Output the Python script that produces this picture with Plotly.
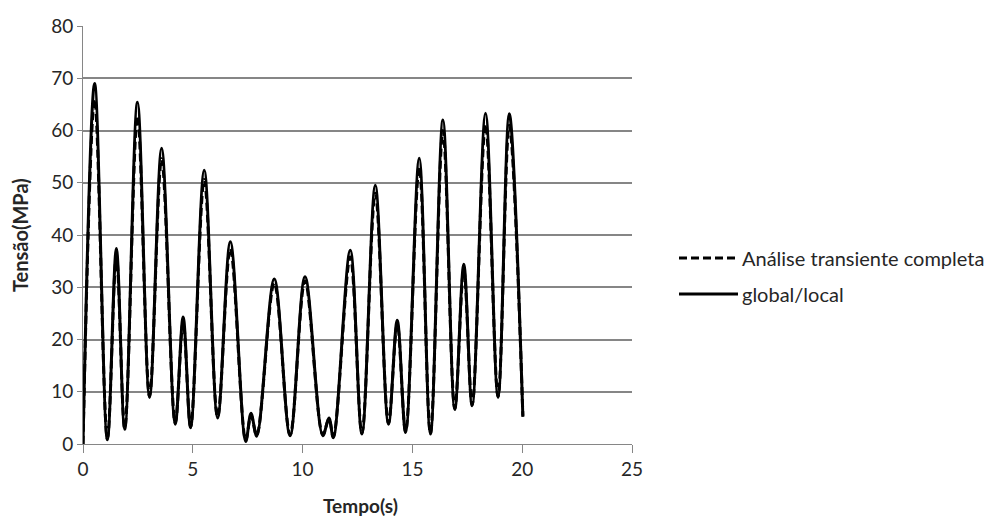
import plotly.graph_objects as go

# Time (s)
tempo = [0, 0.53, 1.11, 1.52, 1.90, 2.48, 3.03, 3.58, 4.20, 4.56, 4.90, 5.52, 6.13, 6.71,
         7.41, 7.65, 7.91, 8.71, 9.43, 10.11, 10.92, 11.20, 11.40, 12.17, 12.70, 13.31,
         13.91, 14.31, 14.69, 15.31, 15.82, 16.39, 16.93, 17.34, 17.72, 18.33, 18.90,
         19.41, 20.03]

# Tensão (MPa) - global/local (solid)
global_local = [0, 69.0, 0.8, 37.4, 2.8, 65.4, 8.9, 56.6, 3.8, 24.3, 3.1, 52.4, 5.0, 38.7,
                0.5, 5.9, 1.5, 31.6, 1.6, 32.0, 1.6, 5.0, 1.2, 37.1, 1.9, 49.5, 3.8, 23.7,
                2.2, 54.7, 1.9, 62.0, 6.6, 34.4, 7.3, 63.3, 8.9, 63.2, 5.2]

# Tensão (MPa) - Análise transiente completa (dashed)
transiente = [0, 66.0, 1.0, 36.0, 3.0, 62.8, 9.2, 54.6, 4.0, 23.4, 3.3, 50.6, 5.2, 37.4,
              0.7, 5.5, 1.7, 30.8, 1.8, 31.2, 1.8, 4.8, 1.4, 35.8, 2.1, 48.0, 4.0, 23.0,
              2.4, 53.0, 2.1, 60.0, 6.8, 33.4, 7.5, 61.2, 9.1, 61.0, 5.4]

x_ticks = [0, 5, 10, 15, 20, 25]
y_ticks = [0, 10, 20, 30, 40, 50, 60, 70, 80]

FONT = "Lato"
TXT = "#262626"
DASH = "8px,4px"

fig = go.Figure()
fig.add_trace(go.Scatter(x=tempo, y=transiente, mode="lines", name="Análise transiente completa",
                         line=dict(color="black", width=3, dash=DASH, shape="spline", smoothing=1.0),
                         showlegend=False))
fig.add_trace(go.Scatter(x=tempo, y=global_local, mode="lines", name="global/local",
                         line=dict(color="black", width=3, shape="spline", smoothing=1.0),
                         showlegend=False))

# manual legend (paper coordinates)
legend_items = [("Análise transiente completa", DASH, 0.445), ("global/local", "solid", 0.359)]
for label, dash, yy in legend_items:
    fig.add_shape(type="line", xref="paper", yref="paper",
                  x0=(679 - 83) / 549, x1=(738 - 83) / 549, y0=yy, y1=yy,
                  line=dict(color="black", width=3, dash=dash))
    fig.add_annotation(xref="paper", yref="paper", x=(740 - 83) / 549, y=yy, text=label,
                       showarrow=False, xanchor="left", yanchor="middle",
                       font=dict(family=FONT, size=20, color=TXT))

# axis titles
fig.add_annotation(xref="paper", yref="paper", x=0.505, y=0, yshift=-61, text="<b>Tempo(s)</b>",
                   showarrow=False, xanchor="center", yanchor="middle",
                   font=dict(family=FONT, size=19, color=TXT))
fig.add_annotation(xref="paper", yref="paper", x=0, y=0.5, xshift=-63, text="<b>Tensão(MPa)</b>",
                   textangle=-90, showarrow=False, xanchor="center", yanchor="middle",
                   font=dict(family=FONT, size=20, color=TXT))

fig.update_layout(
    width=995, height=522,
    margin=dict(l=83, r=363, t=26, b=78),
    plot_bgcolor="white", paper_bgcolor="white",
    font=dict(family=FONT, size=19, color=TXT),
)
fig.update_xaxes(range=[0, 25], tickvals=x_ticks, showgrid=False, zeroline=False,
                 showline=True, linecolor="#868686", linewidth=1,
                 ticks="outside", ticklen=8, tickcolor="#868686",
                 tickfont=dict(family=FONT, size=19, color=TXT))
fig.update_yaxes(range=[0, 80], tickvals=y_ticks, showgrid=True, gridcolor="#868686", gridwidth=1.5,
                 zeroline=False, showline=True, linecolor="#868686", linewidth=1,
                 ticks="outside", ticklen=5, tickcolor="#868686",
                 tickfont=dict(family=FONT, size=19, color=TXT))

fig.write_html("out.html")
